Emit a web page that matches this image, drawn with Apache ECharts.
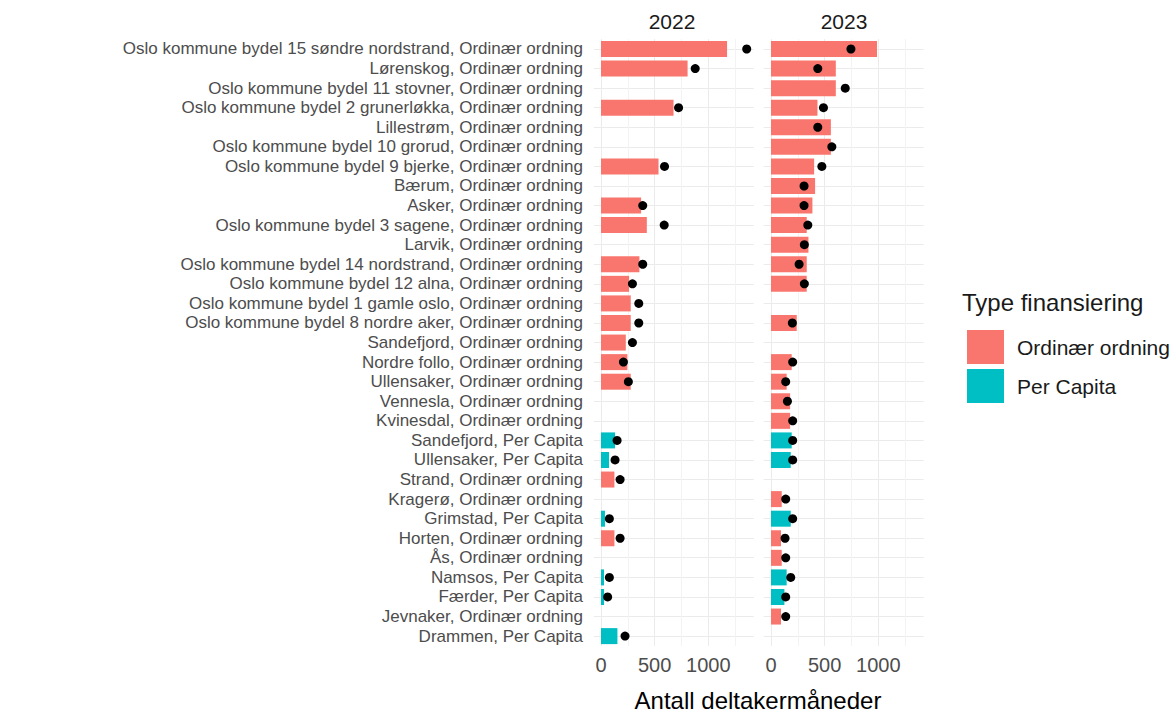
<!DOCTYPE html>
<html>
<head>
<meta charset="utf-8">
<script src="https://cdn.jsdelivr.net/npm/echarts@6/dist/echarts.min.js"></script>
<style>
  html, body { margin: 0; padding: 0; background: #fff; }
  #chart { width: 1173px; height: 715px; }
</style>
</head>
<body>
<div id="chart"></div>
<script>
// kategorier (ovenfra og ned)
var categories = [
  'Oslo kommune bydel 15 søndre nordstrand, Ordinær ordning',
  'Lørenskog, Ordinær ordning',
  'Oslo kommune bydel 11 stovner, Ordinær ordning',
  'Oslo kommune bydel 2 grunerløkka, Ordinær ordning',
  'Lillestrøm, Ordinær ordning',
  'Oslo kommune bydel 10 grorud, Ordinær ordning',
  'Oslo kommune bydel 9 bjerke, Ordinær ordning',
  'Bærum, Ordinær ordning',
  'Asker, Ordinær ordning',
  'Oslo kommune bydel 3 sagene, Ordinær ordning',
  'Larvik, Ordinær ordning',
  'Oslo kommune bydel 14 nordstrand, Ordinær ordning',
  'Oslo kommune bydel 12 alna, Ordinær ordning',
  'Oslo kommune bydel 1 gamle oslo, Ordinær ordning',
  'Oslo kommune bydel 8 nordre aker, Ordinær ordning',
  'Sandefjord, Ordinær ordning',
  'Nordre follo, Ordinær ordning',
  'Ullensaker, Ordinær ordning',
  'Vennesla, Ordinær ordning',
  'Kvinesdal, Ordinær ordning',
  'Sandefjord, Per Capita',
  'Ullensaker, Per Capita',
  'Strand, Ordinær ordning',
  'Kragerø, Ordinær ordning',
  'Grimstad, Per Capita',
  'Horten, Ordinær ordning',
  'Ås, Ordinær ordning',
  'Namsos, Per Capita',
  'Færder, Per Capita',
  'Jevnaker, Ordinær ordning',
  'Drammen, Per Capita'
];
var O = 'Ordinær ordning', P = 'Per Capita';
var finansiering = [O,O,O,O,O,O,O,O,O,O,O,O,O,O,O,O,O,O,O,O,P,P,O,O,P,O,O,P,P,O,P];

// 2022
var bars2022 = [1175, 807, null, 676, null, null, 536, null, 374, 427, null, 358, 262, 277, 277, 231, 246, 277, null, null, 131, 75, 125, null, 37, 125, null, 28, 28, null, 153];
var dots2022 = [1358, 878, null, 723, null, null, 592, null, 389, 589, null, 389, 293, 352, 352, 293, 209, 255, null, null, 150, 131, 178, null, 78, 178, null, 78, 62, null, 224];
// 2023
var bars2023 = [988, 604, 604, 433, 558, 558, 402, 411, 386, 333, 349, 333, 333, null, 240, null, 193, 146, 178, 178, 193, 184, null, 100, 184, 93, 100, 146, 125, 93, null];
var dots2023 = [745, 436, 692, 489, 436, 567, 474, 308, 308, 343, 311, 262, 311, null, 199, null, 202, 137, 153, 202, 202, 202, null, 137, 202, 131, 137, 184, 137, 137, null];

var years = ['2022', '2023'];
var xTicks = [0, 500, 1000];

var FONT = '"Liberation Sans", Arial, sans-serif';
var RED = '#F8766D', TEAL = '#00BFC4';

function byType(vals, t) {
  return vals.map(function (v, i) { return finansiering[i] === t ? v : null; });
}

var myChart = echarts.init(document.getElementById('chart'), null, { renderer: 'svg' });

var panelLeft = [601, 771];
var panels = [[bars2022, dots2022], [bars2023, dots2023]];

var grid = [], xAxis = [], yAxis = [], series = [];

panels.forEach(function (p, k) {
  // hovedpanel
  grid.push({ left: panelLeft[k], width: 153, top: 39.2, height: 606.7 });
  xAxis.push({
    type: 'value', gridIndex: k, min: 0, max: 1426, interval: 250,
    axisLine: { show: false }, axisTick: { show: false },
    axisLabel: {
      color: '#4D4D4D', fontSize: 20, fontFamily: FONT, margin: 9, showMaxLabel: false,
      formatter: function (v) { return xTicks.indexOf(v) >= 0 ? String(v) : ''; }
    },
    splitLine: { show: true, showMaxLine: false, lineStyle: { color: ['#EBEBEB', '#F3F3F3'], width: 1 } }
  });
  yAxis.push({
    type: 'category', gridIndex: k, data: categories, inverse: true,
    axisLine: { show: false }, axisTick: { show: false }, splitLine: { show: false },
    axisLabel: { show: k === 0, interval: 0, color: '#4D4D4D', fontSize: 17, lineHeight: 18, fontFamily: FONT, margin: 18 }
  });
  series.push({
    name: O, type: 'bar', xAxisIndex: k, yAxisIndex: k, stack: 'y' + k, barWidth: 16,
    itemStyle: { color: RED }, data: byType(p[0], O)
  });
  series.push({
    name: P, type: 'bar', xAxisIndex: k, yAxisIndex: k, stack: 'y' + k, barWidth: 16,
    itemStyle: { color: TEAL }, data: byType(p[0], P)
  });
  series.push({
    name: 'punkt ' + years[k], type: 'scatter', xAxisIndex: k, yAxisIndex: k,
    symbolSize: 9, itemStyle: { color: '#000', opacity: 1 }, z: 5, data: p[1]
  });
});

// horisontale rutenettlinjer midt i hver kategori
[593.7, 763.7].forEach(function (left, k) {
  var gi = grid.length;
  grid.push({ left: left, width: 160, top: 49, height: 587 });
  xAxis.push({ type: 'value', gridIndex: gi, show: false, min: 0, max: 1 });
  yAxis.push({
    type: 'category', gridIndex: gi, data: categories, inverse: true, boundaryGap: false,
    axisLine: { show: false }, axisTick: { show: false, interval: 0 },
    axisLabel: { show: false, interval: 0 },
    splitLine: { show: true, interval: 0, lineStyle: { color: '#EBEBEB', width: 1 } }
  });
});

myChart.setOption({
  animation: false,
  backgroundColor: '#fff',
  grid: grid,
  xAxis: xAxis,
  yAxis: yAxis,
  legend: {
    orient: 'vertical', left: 962, top: 325,
    itemWidth: 37, itemHeight: 34, itemGap: 5,
    icon: 'rect', data: [O, P],
    textStyle: { fontSize: 21, color: '#1A1A1A', fontFamily: FONT, padding: [0, 0, 0, 8] }
  },
  graphic: [
    { type: 'text', style: { text: '2022', x: 672, y: 21, textAlign: 'center', textVerticalAlign: 'middle', font: '21px ' + FONT, fill: '#1A1A1A' } },
    { type: 'text', style: { text: '2023', x: 844, y: 21, textAlign: 'center', textVerticalAlign: 'middle', font: '21px ' + FONT, fill: '#1A1A1A' } },
    { type: 'text', style: { text: 'Antall deltakermåneder', x: 758, y: 700, textAlign: 'center', textVerticalAlign: 'middle', font: '24px ' + FONT, fill: '#000' } },
    { type: 'text', style: { text: 'Type finansiering', x: 962, y: 302, textAlign: 'left', textVerticalAlign: 'middle', font: '24px ' + FONT, fill: '#1A1A1A' } }
  ],
  series: series
});
</script>
</body>
</html>
